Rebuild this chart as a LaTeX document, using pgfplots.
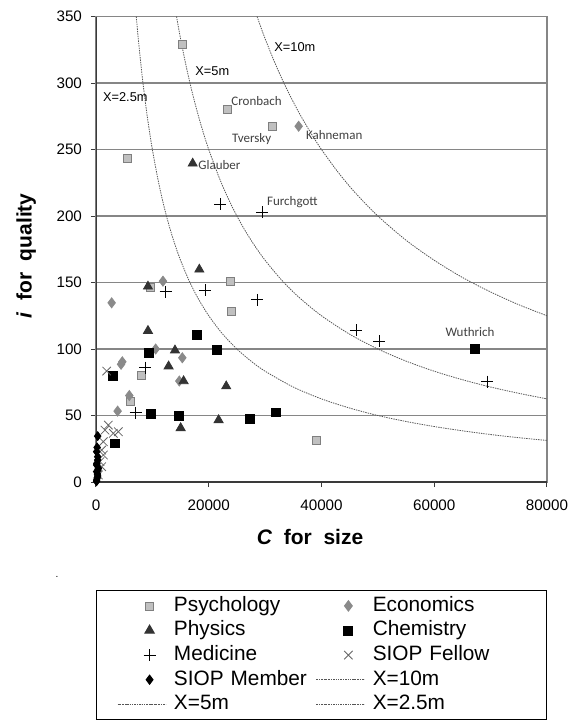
\documentclass[border=0pt]{standalone}
\usepackage{fontspec}
\setmainfont{Liberation Sans}
\newfontfamily\calfont{Carlito}
\usepackage{pgfplots}
\pgfplotsset{compat=1.18}
\definecolor{gridgray}{HTML}{868686}
\definecolor{axisdark}{HTML}{3A3A3A}
\definecolor{psyfill}{HTML}{C0C0C0}
\definecolor{psydraw}{HTML}{7F7F7F}
\definecolor{econ}{HTML}{8A8A8A}
\definecolor{phys}{HTML}{333333}
\definecolor{fellow}{HTML}{666666}
\definecolor{curvegray}{HTML}{555555}
\definecolor{namegray}{HTML}{404040}
\begin{document}
\begin{tikzpicture}
\path[use as bounding box] (-48pt,-121pt) rectangle (237pt,241pt);
\node[font=\tiny, inner sep=0pt] at (-19.5pt,-47.5pt) {.};
\begin{axis}[
  at={(0,0)}, anchor=south west,
  scale only axis, width=225.5pt, height=232.75pt,
  xmin=0, xmax=80000, ymin=0, ymax=350,
  xtick={0,20000,40000,60000,80000},
  ytick={0,50,100,150,200,250,300,350},
  scaled x ticks=false,
  /pgf/number format/1000 sep={},
  /pgf/number format/assume math mode=true,
  tick label style={font=\fontsize{7.6}{9}\selectfont},
  xticklabel style={yshift=-3pt},
  yticklabel style={xshift=-1pt},
  tick align=outside, major tick length=2.5pt,
  xtick pos=left, ytick pos=left,
  tick style={axisdark, line width=0.5pt},
  axis line style={gridgray, line width=0.6pt},
  ymajorgrids, grid style={gridgray, line width=0.75pt},
  xlabel={\textbf{\textit{C}\ \ for\ \ size}},
  ylabel={\textbf{\textit{i}\ \ for\ \ quality}},
  every axis x label/.style={at={(axis description cs:0.4745,-0.118)}, anchor=center, font=\fontsize{10.5}{12}\selectfont},
  every axis y label/.style={at={(axis description cs:-0.155,0.4855)}, rotate=90, anchor=center, font=\fontsize{10.5}{12}\selectfont},
  legend columns=2,
  legend image code/.code={\draw[mark repeat=2,mark phase=2,#1] plot coordinates {(0pt,0pt) (16pt,0pt) (24pt,0pt)};},
  legend style={at={(0.5,0)}, anchor=north, yshift=-54pt, draw=black, line width=0.6pt,
    font=\fontsize{10.4}{12}\selectfont, inner xsep=10.5pt, inner ysep=1.5pt,
    column sep=2.5pt,
    nodes={inner xsep=1.5pt, inner ysep=1.45pt, text height=7.4pt, text depth=2pt, anchor=west, align=left},
    /tikz/column 2/.style={nodes={text width=67pt}},
    /tikz/column 4/.style={nodes={text width=75pt}}},
]
% Psychology
\addplot[only marks, mark=square*, mark size=2pt, mark options={fill=psyfill, draw=psydraw, line width=0.4pt}] coordinates {
(15400,329) (23360,280) (31340,267) (5620,243) (9580,146) (23770,150.5) (23950,128.5) (8100,80) (6150,60.6) (39020,31.6)};
\addlegendentry{Psychology}
% Economics
\addplot[only marks, mark=diamond*, mark size=2.5pt, mark options={fill=econ, draw=econ}] coordinates {
(35950,267.5) (11880,151) (2780,134.7) (10580,100) (15310,93.4) (4670,90.4) (4450,88.5) (14780,75.9) (5910,65) (3840,53.3)};
\addlegendentry{Economics}
% Physics
\addplot[only marks, mark=triangle*, mark size=2.6pt, mark options={fill=phys, draw=phys}] coordinates {
(17150,239.5) (18330,159.8) (9220,147) (9220,113.7) (14010,99) (12880,87) (15540,75.9) (23100,72) (21750,46.6) (15020,40.6)};
\addlegendentry{Physics}
% Chemistry
\addplot[only marks, mark=square*, mark size=2.2pt, mark options={fill=black, draw=black}] coordinates {
(17850,110.7) (9400,97.2) (21400,99.2) (2950,80) (9700,51.3) (14720,49.8) (27320,47.6) (31930,52.4) (3310,29) (67230,100)};
\addlegendentry{Chemistry}
% Medicine
\addplot[only marks, mark=+, mark size=3pt, mark options={draw=black, line width=0.4pt}] coordinates {
(22000,209) (29450,203) (12360,143) (19330,144) (28560,137) (8750,86) (7020,52) (46120,114) (50250,106) (69360,75.4)};
\addlegendentry{Medicine}
% SIOP Fellow
\addplot[only marks, mark=x, mark size=3pt, mark options={draw=fellow, line width=0.4pt}] coordinates {
(1890,83.4) (2180,42.8) (1600,39) (3960,37.8) (3070,36.6) (1300,30.3) (1010,24) (1300,20.3) (710,15.3) (1010,11.5) (410,5.3)};
\addlegendentry{SIOP Fellow}
% SIOP Member
\addplot[only marks, mark=diamond*, mark size=2.2pt, mark options={fill=black, draw=black}] coordinates {
(300,34.5) (200,26) (120,22.8) (300,19) (300,16.5) (150,14) (120,12.8) (410,10.3) (350,9) (120,7.8) (250,6) (300,4.5) (200,3) (120,1.5) (100,0.5)};
\addlegendentry{SIOP Member}
% X = 10m
\addplot[no marks, smooth, color=curvegray, line width=0.4pt, dash pattern=on 0.7pt off 0.5pt] coordinates {
(28571,350) (30000,333.3) (32000,312.5) (34000,294.1) (36000,277.8) (38000,263.2) (40000,250) (43000,232.6) (46000,217.4) (50000,200) (55000,181.8) (60000,166.7) (65000,153.8) (70000,142.9) (75000,133.3) (80000,125)};
\addlegendentry{X=10m}
% X = 5m
\addplot[no marks, smooth, color=curvegray, line width=0.4pt, dash pattern=on 0.7pt off 0.5pt] coordinates {
(14286,350) (15000,333.3) (16000,312.5) (17000,294.1) (18000,277.8) (19000,263.2) (20000,250) (22000,227.3) (24000,208.3) (26000,192.3) (28000,178.6) (30000,166.7) (33000,151.5) (36000,138.9) (40000,125) (45000,111.1) (50000,100) (55000,90.9) (60000,83.3) (65000,76.9) (70000,71.4) (75000,66.7) (80000,62.5)};
\addlegendentry{X=5m}
% X = 2.5m
\addplot[no marks, smooth, color=curvegray, line width=0.4pt, dash pattern=on 0.7pt off 0.5pt] coordinates {
(7143,350) (7500,333.3) (8000,312.5) (8500,294.1) (9000,277.8) (9500,263.2) (10000,250) (11000,227.3) (12000,208.3) (13000,192.3) (14000,178.6) (15000,166.7) (16500,151.5) (18000,138.9) (20000,125) (22500,111.1) (25000,100) (27500,90.9) (30000,83.3) (35000,71.4) (40000,62.5) (45000,55.6) (50000,50) (55000,45.5) (60000,41.7) (65000,38.5) (70000,35.7) (75000,33.3) (80000,31.25)};
\addlegendentry{X=2.5m}
% darker left and bottom axis lines
\draw[axisdark, line width=0.6pt] (rel axis cs:0,1) -- (rel axis cs:0,0) -- (rel axis cs:1,0);
% name labels
\begin{scope}[every node/.style={font=\calfont\fontsize{6.5}{8}\selectfont, text=namegray, inner sep=0pt}]
\node[anchor=west] at (axis cs:23950,286.5) {Cronbach};
\node[anchor=west] at (axis cs:24070,258.2) {Tversky};
\node[anchor=west] at (axis cs:37190,260.7) {Kahneman};
\node[anchor=west] at (axis cs:18100,238.2) {Glauber};
\node[anchor=west] at (axis cs:30280,210.4) {Furchgott};
\node[anchor=center] at (axis cs:66350,113) {Wuthrich};
\end{scope}
\begin{scope}[every node/.style={font=\fontsize{6.4}{8}\selectfont, text=black, inner sep=0pt, anchor=west}]
\node at (axis cs:31580,326.8) {X=10m};
\node at (axis cs:17560,308.8) {X=5m};
\node at (axis cs:1190,289.5) {X=2.5m};
\end{scope}
\end{axis}
\end{tikzpicture}
\end{document}
